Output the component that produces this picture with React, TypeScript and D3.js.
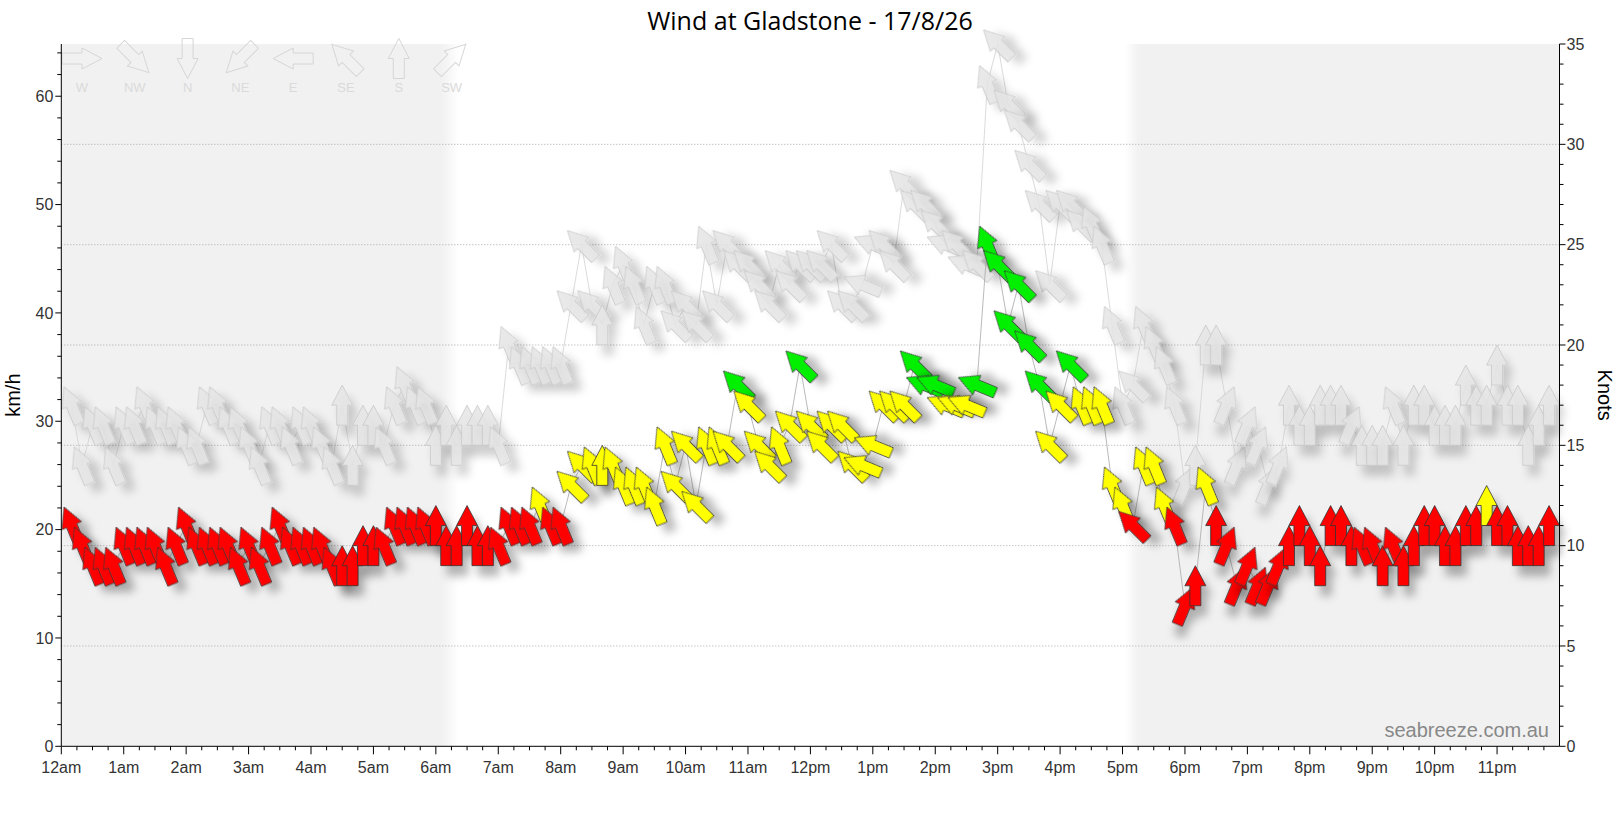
import * as d3 from "d3";

// hour labels along the bottom axis
const hourLabels = [
  "12am", "1am", "2am", "3am", "4am", "5am", "6am", "7am", "8am", "9am", "10am", "11am",
  "12pm", "1pm", "2pm", "3pm", "4pm", "5pm", "6pm", "7pm", "8pm", "9pm", "10pm", "11pm",
];

// readings every 10 minutes from 12:10am, in knots
const avgKnots = [
  11, 10, 9, 9, 9, 10, 10, 10, 10, 9,
  10, 11, 10, 10, 10, 10, 9, 10, 9, 10,
  11, 10, 10, 10, 10, 9, 9, 9, 10, 10,
  10, 11, 11, 11, 11, 11, 10, 10, 11, 10,
  10, 10, 11, 11, 11, 12, 11, 11, 13, 14,
  14, 14, 14, 13, 13, 13, 12, 15, 13, 15,
  12, 15, 15, 15, 18, 17, 15, 14, 15, 16,
  19, 16, 15, 16, 16, 14, 14, 15, 17, 17,
  17, 19, 18, 18, 17, 17, 17, 18, 25, 24,
  21, 23, 20, 18, 15, 17, 19, 17, 17, 17,
  13, 12, 11, 14, 14, 12, 11, 7, 8, 13,
  11, 10, 8, 9, 8, 8, 9, 10, 11, 10,
  9, 11, 11, 10, 10, 10, 9, 10, 9, 10,
  11, 11, 10, 10, 11, 11, 12, 11, 11, 10,
  10, 10, 11,
];

const avgDir = [
  "SSE", "SSE", "SSE", "SSE", "SSE", "SSE", "SSE", "SSE", "SSE", "SSE",
  "SSE", "SSE", "SSE", "SSE", "SSE", "SSE", "SSE", "SSE", "SSE", "SSE",
  "SSE", "SSE", "SSE", "SSE", "SSE", "SSE", "S", "S", "S", "S",
  "SSE", "SSE", "SSE", "SSE", "SSE", "S", "S", "S", "S", "S",
  "S", "SSE", "SSE", "SSE", "SSE", "SSE", "SSE", "SSE", "SE", "SE",
  "SSE", "S", "SSE", "SSE", "SSE", "SSE", "SSE", "SSE", "SE", "SE",
  "SE", "SSE", "SSE", "SE", "SE", "SE", "SE", "SE", "SSE", "SE",
  "SE", "SE", "SE", "SE", "SE", "SE", "ESE", "ESE", "SE", "SE",
  "SE", "SE", "ESE", "ESE", "ESE", "ESE", "ESE", "ESE", "SSE", "SE",
  "SE", "SE", "SE", "SE", "SE", "SE", "SE", "SSE", "SSE", "SSE",
  "SSE", "SSE", "SE", "SSE", "SSE", "SSE", "SSE", "SSW", "S", "SSE",
  "S", "SSW", "SSW", "SSW", "SSW", "SSW", "SSW", "S", "S", "S",
  "S", "S", "S", "S", "SSE", "SSE", "S", "SSE", "S", "S",
  "S", "S", "S", "S", "S", "S", "S", "S", "S", "S",
  "S", "S", "S",
];

const gustKnots = [
  17, 14, 16, 16, 14, 16, 16, 17, 16, 16,
  16, 15, 15, 17, 17, 16, 16, 15, 14, 16,
  16, 15, 16, 16, 15, 14, 17, 14, 16, 16,
  15, 17, 18, 17, 17, 15, 16, 15, 16, 16,
  16, 15, 20, 19, 19, 19, 19, 19, 22, 25,
  22, 21, 23, 24, 23, 21, 23, 23, 21, 22,
  21, 25, 22, 25, 24, 24, 23, 22, 24, 23,
  24, 24, 24, 25, 22, 22, 23, 25, 25, 24,
  28, 27, 27, 26, 25, 25, 24, 24, 33, 35,
  32, 31, 29, 27, 23, 27, 27, 26, 26, 25,
  21, 17, 18, 21, 20, 19, 17, 13, 14, 20,
  20, 17, 14, 16, 15, 13, 14, 17, 16, 16,
  17, 17, 17, 16, 15, 15, 15, 17, 15, 17,
  17, 16, 16, 16, 18, 17, 17, 19, 17, 17,
  15, 16, 17,
];

const gustDir = [
  "SSE", "SSE", "SSE", "SSE", "SSE", "SSE", "SSE", "SSE", "SSE", "SSE",
  "SSE", "SSE", "SSE", "SSE", "SSE", "SSE", "SSE", "SSE", "SSE", "SSE",
  "SSE", "SSE", "SSE", "SSE", "SSE", "SSE", "S", "S", "S", "S",
  "SSE", "SSE", "SSE", "SSE", "SSE", "S", "S", "S", "S", "S",
  "S", "SSE", "SSE", "SSE", "SSE", "SSE", "SSE", "SSE", "SE", "SE",
  "SE", "S", "SSE", "SSE", "SSE", "SSE", "SSE", "SSE", "SE", "SE",
  "SE", "SSE", "SE", "SE", "SE", "SE", "SE", "SE", "SE", "SE",
  "SE", "SE", "SE", "SE", "SE", "SE", "ESE", "ESE", "SE", "SE",
  "SE", "SE", "SE", "SE", "ESE", "SE", "ESE", "SE", "SSE", "SE",
  "SE", "SE", "SE", "SE", "SE", "SE", "SE", "SE", "SSE", "SSE",
  "SSE", "SSE", "SE", "SSE", "SSE", "SSE", "SSE", "SSW", "S", "S",
  "S", "SSW", "SSW", "SSW", "SSW", "SSW", "SSW", "S", "S", "S",
  "S", "S", "S", "SSW", "S", "S", "S", "SSE", "S", "S",
  "S", "S", "S", "S", "S", "S", "S", "S", "S", "S",
  "S", "S", "S",
];

const legendDirs = ["W", "NW", "N", "NE", "E", "SE", "S", "SW"];

const compass: Record<string, number> = {
  N: 0, NE: 45, E: 90, ESE: 112.5, SE: 135, SSE: 157.5,
  S: 180, SSW: 202.5, SW: 225, W: 270, NW: 315,
};

// night shading (minutes since midnight): dark until dawn, fades in after dusk
const DAWN = [366, 382];
const DUSK = [1022, 1036];

const KMH_PER_KNOT = 1.852;
const X0 = 61.3;
const X1 = 1559.5;
const Y0 = 746.3;
const Y1 = 44;

const ARROW = "M0,-20L10.5,0L5.5,0L5.5,20L-5.5,20L-5.5,0L-10.5,0Z";
const FONT = "'Liberation Sans', Arial, sans-serif";

const speedColor = (kn: number) => (kn >= 18 ? "#00f000" : kn >= 12 ? "#ffff00" : "#ff0000");

export default function App() {
  const x = d3.scaleLinear().domain([0, 1440]).range([X0, X1]);
  const yKmh = d3.scaleLinear().domain([0, 35 * KMH_PER_KNOT]).range([Y0, Y1]);
  const yKn = d3.scaleLinear().domain([0, 35]).range([Y0, Y1]);

  const minutes = avgKnots.map((_, i) => (i + 1) * 10);

  const avgPts = avgKnots.map((k, i) => [x(minutes[i]), yKn(k)] as [number, number]);
  const gustPts = gustKnots.map((k, i) => [x(minutes[i]), yKn(k)] as [number, number]);
  const line = d3.line();

  const xTicks = d3.range(0, 1440, 15);
  const kmhTicks = d3.range(0, 65, 2);
  const knTicks = d3.range(0, 36, 1);
  const gridKn = [5, 10, 15, 20, 25, 30];

  return (
    <svg
      width={1620}
      height={813}
      style={{ position: "absolute", left: 0, top: 0, background: "#fff" }}
    >
      <defs>
        <linearGradient id="dawn" x1="0" x2="1" y1="0" y2="0">
          <stop offset="0" stopColor="#f1f1f1" />
          <stop offset="1" stopColor="#ffffff" />
        </linearGradient>
        <linearGradient id="dusk" x1="0" x2="1" y1="0" y2="0">
          <stop offset="0" stopColor="#ffffff" />
          <stop offset="1" stopColor="#f1f1f1" />
        </linearGradient>
        <filter id="shadow" x="-60%" y="-60%" width="220%" height="220%">
          <feDropShadow dx="6" dy="10" stdDeviation="4" floodColor="#000" floodOpacity="0.28" />
        </filter>
        <filter id="gshadow" x="-60%" y="-60%" width="220%" height="220%">
          <feDropShadow dx="6" dy="10" stdDeviation="4" floodColor="#000" floodOpacity="0.2" />
        </filter>
      </defs>

      {/* night shading */}
      <rect x={X0} y={Y1} width={x(DAWN[0]) - X0} height={Y0 - Y1} fill="#f1f1f1" />
      <rect x={x(DAWN[0])} y={Y1} width={x(DAWN[1]) - x(DAWN[0])} height={Y0 - Y1} fill="url(#dawn)" />
      <rect x={x(DUSK[0])} y={Y1} width={x(DUSK[1]) - x(DUSK[0])} height={Y0 - Y1} fill="url(#dusk)" />
      <rect x={x(DUSK[1])} y={Y1} width={X1 - x(DUSK[1])} height={Y0 - Y1} fill="#f1f1f1" />

      {/* dotted grid every 5 knots */}
      {gridKn.map((k) => (
        <line
          key={k}
          x1={X0}
          x2={X1}
          y1={yKn(k)}
          y2={yKn(k)}
          stroke="#aaa"
          strokeWidth={1}
          strokeDasharray="1 2"
        />
      ))}

      {/* direction legend */}
      {legendDirs.map((d, i) => (
        <g key={d} transform={`translate(${82 + i * 52.8},58.5)`}>
          <path d={ARROW} transform={`rotate(${compass[d] - 180})`} fill="none" stroke="#d6d6d6" strokeWidth={1} />
          <text y={33} textAnchor="middle" fontFamily={FONT} fontSize={13} fill="#dadada">
            {d}
          </text>
        </g>
      ))}

      {/* gusts */}
      <path d={line(gustPts) ?? ""} fill="none" stroke="#d2d2d2" strokeWidth={0.8} />
      {gustPts.map(([px, py], i) => (
        <path
          key={`g${i}`}
          d={ARROW}
          transform={`translate(${px},${py}) rotate(${compass[gustDir[i]] - 180})`}
          fill="#e5e5e5"
          fillOpacity={0.85}
          stroke="#c8c8c8"
          strokeWidth={0.8}
          filter="url(#gshadow)"
        />
      ))}

      {/* average wind */}
      <path d={line(avgPts) ?? ""} fill="none" stroke="#a8a8a8" strokeWidth={0.8} />
      {avgPts.map(([px, py], i) => (
        <path
          key={`a${i}`}
          d={ARROW}
          transform={`translate(${px},${py}) rotate(${compass[avgDir[i]] - 180})`}
          fill={speedColor(avgKnots[i])}
          stroke="#333"
          strokeWidth={0.8}
          filter="url(#shadow)"
        />
      ))}

      {/* bottom axis */}
      <line x1={X0} x2={X1} y1={Y0} y2={Y0} stroke="#000" />
      {xTicks.map((m) => (
        <line key={m} x1={x(m)} x2={x(m)} y1={Y0} y2={Y0 + (m % 60 === 0 ? 8 : 4)} stroke="#000" />
      ))}
      {hourLabels.map((lab, i) => (
        <text
          key={lab}
          x={x(i * 60)}
          y={773}
          textAnchor="middle"
          fontFamily={FONT}
          fontSize={16}
          fill="#333"
        >
          {lab}
        </text>
      ))}

      {/* left axis km/h */}
      <line x1={X0} x2={X0} y1={Y1} y2={Y0} stroke="#000" />
      {kmhTicks.map((v) => (
        <line key={v} x1={X0 - (v % 10 === 0 ? 6 : 4)} x2={X0} y1={yKmh(v)} y2={yKmh(v)} stroke="#000" />
      ))}
      {kmhTicks
        .filter((v) => v % 10 === 0)
        .map((v) => (
          <text
            key={v}
            x={X0 - 8}
            y={yKmh(v)}
            dy="0.36em"
            textAnchor="end"
            fontFamily={FONT}
            fontSize={16}
            fill="#333"
          >
            {v}
          </text>
        ))}

      {/* right axis knots */}
      <line x1={X1} x2={X1} y1={Y1} y2={Y0} stroke="#000" />
      {knTicks.map((v) => (
        <line key={v} x1={X1} x2={X1 + (v % 5 === 0 ? 6 : 4)} y1={yKn(v)} y2={yKn(v)} stroke="#000" />
      ))}
      {knTicks
        .filter((v) => v % 5 === 0)
        .map((v) => (
          <text key={v} x={X1 + 7} y={yKn(v)} dy="0.36em" fontFamily={FONT} fontSize={16} fill="#333">
            {v}
          </text>
        ))}

      {/* titles */}
      <text
        x={810}
        y={30}
        textAnchor="middle"
        fontFamily="'Open Sans', 'Liberation Sans', sans-serif"
        fontSize={25}
        fill="#000"
      >
        Wind at Gladstone - 17/8/26
      </text>
      <text
        transform={`translate(20,${(Y0 + Y1) / 2}) rotate(-90)`}
        textAnchor="middle"
        fontFamily={FONT}
        fontSize={20}
        fill="#000"
      >
        km/h
      </text>
      <text
        transform={`translate(1598,${(Y0 + Y1) / 2}) rotate(90)`}
        textAnchor="middle"
        fontFamily={FONT}
        fontSize={20}
        fill="#000"
      >
        Knots
      </text>
      <text x={1549} y={737} textAnchor="end" fontFamily={FONT} fontSize={20} fill="#888">
        seabreeze.com.au
      </text>
    </svg>
  );
}
